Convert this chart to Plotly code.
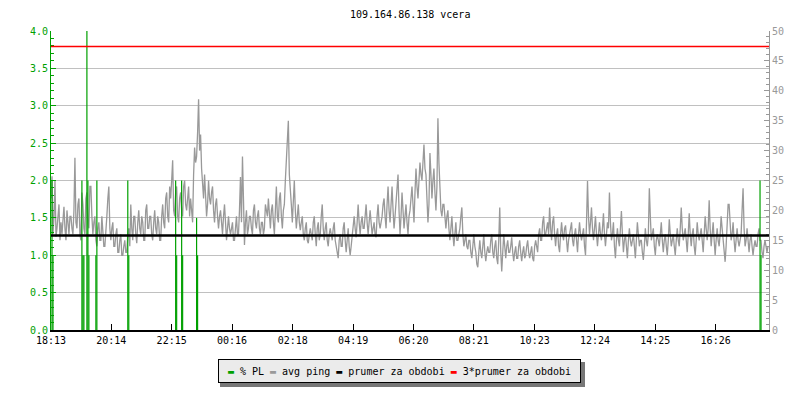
import plotly.graph_objects as go

TITLE = "109.164.86.138 vcera"
START = "18:13"
STEP_MIN = 2  # one ping sample every 2 minutes

TICK_LABELS = ["18:13", "20:14", "22:15", "00:16", "02:18", "04:19",
               "06:20", "08:21", "10:23", "12:24", "14:25", "16:26"]

# avg ping in ms
PING_MS = [
    22, 25.7, 16, 19, 25, 15.6, 17, 20, 21, 15, 18, 16, 19, 20.6, 17, 15, 20, 18, 16, 19,
    19, 17, 16, 20, 28.8, 18, 17, 21, 22, 16, 15, 23, 21, 17, 16, 22, 23, 18, 17, 24,
    24, 19, 16, 18, 19, 15, 14, 17, 18, 15, 15, 19, 17, 14, 14, 16, 19, 22, 24, 17,
    15, 17, 18, 14, 14, 16, 17, 13, 13, 15, 16, 12.5, 12.5, 14, 15, 13, 13, 16, 17, 14,
    21, 17, 15, 19, 19, 16, 14.5, 18, 20, 17, 16, 19, 18, 15, 15, 20, 21, 17, 17, 19,
    19, 16, 15, 18, 20, 17, 16, 19, 18, 15, 15, 19, 21, 18, 17, 22, 23, 19, 18, 24,
    22, 25, 28.4, 20, 19, 23, 24, 19, 18, 22, 23, 20, 19, 24, 25, 21, 20, 22, 24, 19,
    22, 20, 18, 26, 30.5, 28, 29, 33, 38.6, 30, 32.7, 27, 24, 22, 26, 23, 19, 21, 25, 22,
    21, 23, 24, 20, 18, 21, 22, 19, 17, 19, 20, 18, 16, 19, 21, 18, 15, 17, 19, 17,
    16, 17, 18, 15, 15, 17, 19, 16, 16, 20, 25.6, 18, 29, 22, 14.2, 18, 20, 16, 17, 19,
    19, 17, 16, 20, 21, 18, 17, 19, 20, 17, 16, 18, 18, 16, 17, 21, 20, 19, 22, 18,
    17, 20, 21, 18, 16, 20, 24, 19, 18, 22, 23, 19, 17, 20, 21, 25, 28, 30, 35, 26,
    24, 21, 18, 23, 25, 20, 17, 19, 21, 18, 16.7, 18, 19, 16, 15, 17, 18, 15, 14.5, 16,
    17, 16, 15, 18, 19, 16, 14, 17, 18, 15, 16, 19, 21, 17, 15, 17, 18, 15, 14, 16,
    17, 16, 15, 17, 18, 15, 14, 13, 12, 15, 16, 14, 14, 17, 18, 15, 13, 15, 17, 14,
    12.5, 14, 16, 18, 19, 17, 15.5, 18, 21, 18, 16, 18, 19, 17, 17, 19, 21, 18, 16, 18,
    20, 18, 16, 17, 18, 16, 15.5, 19, 21, 18, 17, 18, 19, 21, 22, 19, 17, 21, 24, 20,
    18, 21, 24, 20, 17, 19, 22, 24, 26, 20, 16, 19, 23, 20, 17, 19, 21, 18, 16, 19,
    20, 22, 24, 21, 18, 23, 27, 24, 22, 25, 28, 26, 25, 28, 31, 27, 26, 22, 18, 21,
    29.6, 26, 22, 25, 27, 23, 20, 24, 35.4, 28, 22, 20, 19, 21, 21, 18, 17, 19, 20, 17,
    15, 17, 19, 16, 14, 16, 18, 15, 15, 16, 17, 19, 20.5, 16, 14, 15, 16, 14, 13.5, 15,
    15, 13, 12, 14, 16, 14, 13, 11, 10.5, 13, 15, 13, 12, 14, 16, 13, 11.5, 13, 14, 13,
    13, 15, 16, 13, 12, 14, 15, 12, 11, 15, 20.5, 13, 9.8, 13, 16, 14, 12, 14, 15, 13,
    13, 14, 15.5, 13, 11.5, 13, 14, 12, 12, 14, 15, 13, 11.5, 13, 14, 12, 12.5, 14, 15, 13,
    12, 13, 14, 12, 11.5, 14, 15, 14, 13, 16, 17, 15, 15, 18, 19, 16, 16, 17, 18, 16,
    20.5, 17, 15, 18, 19, 16, 14, 16, 17, 14, 13, 16, 18, 16, 15, 17, 17.5, 15, 13, 15,
    16, 17, 18, 15, 14, 16, 17, 15, 13, 16, 18, 16, 15, 16, 17, 14, 12.5, 18, 24.9, 19,
    16, 18, 20.5, 17, 15, 17, 19, 16, 14, 16, 18, 16, 15, 17, 19.5, 16, 14, 16, 18, 17,
    23, 18, 15, 16, 18, 14, 12, 15, 17, 15, 14, 17, 19.9, 16, 13, 15, 16, 14, 12, 15,
    17, 15, 14, 15, 16, 14, 12, 15, 18, 16, 14, 15, 15, 13, 11.7, 14, 17, 15, 14, 16,
    23.7, 19, 15, 16, 17, 14, 12.5, 15, 16, 15, 14, 16, 18, 15, 13, 15, 16, 14, 12.5, 15,
    18.5, 16, 14, 15, 16, 14, 12.5, 15, 17, 15, 14, 17, 20.5, 17, 15, 16, 17, 15, 13, 16,
    19.5, 16, 14, 16, 17, 14, 12.5, 15, 18, 16, 15, 16, 17, 15, 13, 16, 19, 17, 15, 17,
    21.7, 17, 14, 16, 18, 15, 12.5, 15, 17, 15, 14, 16, 19, 17, 15, 13, 11.4, 14, 17, 21,
    21, 17, 15, 16, 18, 15, 13, 15, 17, 15, 14, 15, 16, 20, 23.7, 17, 14, 15, 17, 15,
    13, 15, 16, 14, 12.5, 14, 15, 14, 14, 16, 17, 15, 15, 13, 12, 14, 15, 14, 13, 14,
]

# packet loss samples: minutes after start, % PL
PL_MIN = [2, 4, 62, 64, 66, 72, 74, 76, 90, 92, 154, 156,
          250, 252, 262, 264, 292, 294, 1422, 1424]
PL_PCT = [2, 1, 2, 1, 1, 4, 2, 1, 1, 2, 2, 1,
          2, 1, 2, 1, 1.5, 1, 2, 1]

AVG_PING = 15.8

GREEN = "#00a000"
GREY = "#999999"
FONT = "DejaVu Sans Mono"


def minutes_after_start(label):
    h, m = map(int, label.split(":"))
    h0, m0 = map(int, START.split(":"))
    return ((h * 60 + m) - (h0 * 60 + m0)) % 1440


ping_x = [i * STEP_MIN for i in range(len(PING_MS))]
tick_vals = [minutes_after_start(t) for t in TICK_LABELS]

pl_x, pl_y = [], []
for t, v in zip(PL_MIN, PL_PCT):
    pl_x += [t, t, None]
    pl_y += [0, v, None]

fig = go.Figure()
fig.add_trace(go.Scatter(x=ping_x, y=PING_MS, mode="lines", yaxis="y",
                         line=dict(color=GREY, width=1.3), name="avg ping"))
fig.add_trace(go.Scatter(x=pl_x, y=pl_y, mode="lines", yaxis="y2",
                         line=dict(color=GREEN, width=1.2), name="% PL"))

fig.add_shape(type="line", xref="paper", yref="y", x0=0, x1=1,
              y0=AVG_PING, y1=AVG_PING, line=dict(color="black", width=2.5),
              layer="above")
fig.add_shape(type="line", xref="paper", yref="y", x0=0, x1=1,
              y0=3 * AVG_PING, y1=3 * AVG_PING, line=dict(color="red", width=1.5),
              layer="above")

# legend box shadow (plot area is 718 x 299 px)
fig.add_shape(type="rect", xref="paper", yref="paper",
              x0=(220 - 51) / 718, x1=(585 - 51) / 718,
              y0=(330 - 387) / 299, y1=(330 - 362) / 299,
              line=dict(width=0), fillcolor="#777777")

legend_text = (
    f"<span style='color:{GREEN}'>▬</span> % PL "
    f"<span style='color:{GREY}'>▬</span> avg ping "
    "<span style='color:black'>▬</span> prumer za obdobi "
    "<span style='color:red'>▬</span> 3*prumer za obdobi"
)
fig.add_annotation(text=legend_text, xref="paper", yref="paper",
                   x=(399.5 - 51) / 718, y=(330 - 371) / 299,
                   showarrow=False, xanchor="center", yanchor="middle",
                   width=355, height=16,
                   font=dict(family=FONT, size=10, color="black"),
                   bgcolor="#ebebeb", borderpad=3, borderwidth=1, bordercolor="black")

fig.add_annotation(text=TITLE, xref="paper", yref="paper", x=0.5, y=(330 - 14) / 299,
                   showarrow=False, xanchor="center", yanchor="middle",
                   font=dict(family=FONT, size=10, color="black"))

# the page body has an 8 px margin, so the figure is shrunk to fit the window
fig.update_layout(
    width=784, height=384,
    margin=dict(l=43, r=23, t=23, b=62, autoexpand=False),
    paper_bgcolor="white", plot_bgcolor="white",
    showlegend=False,
    font=dict(family=FONT, size=10, color="black"),
    xaxis=dict(range=[0, 1440], tickvals=tick_vals, ticktext=TICK_LABELS,
               ticks="inside", ticklen=6, tickcolor="black", showgrid=False,
               showline=True, linecolor="black", linewidth=2, zeroline=False,
               automargin=False,
               tickfont=dict(family=FONT, size=10, color="black")),
    yaxis=dict(range=[0, 50], side="right", dtick=5, showgrid=False, zeroline=False,
               ticks="inside", ticklen=5, tickcolor=GREY, showline=True, linecolor=GREY,
               automargin=False,
               tickfont=dict(family=FONT, size=10, color=GREY),
               minor=dict(dtick=1, ticks="inside", ticklen=3, tickcolor=GREY)),
    yaxis2=dict(range=[0, 4], overlaying="y", side="left", dtick=0.5, tickformat=".1f",
                showgrid=True, gridcolor="#c0c0c0", gridwidth=1, zeroline=False,
                ticks="inside", ticklen=5, tickcolor=GREEN, showline=True,
                linecolor=GREEN, linewidth=1, automargin=False,
                tickfont=dict(family=FONT, size=10, color=GREEN),
                minor=dict(dtick=0.1, ticks="inside", ticklen=3, tickcolor=GREEN)),
)

fig.write_html("out.html")
